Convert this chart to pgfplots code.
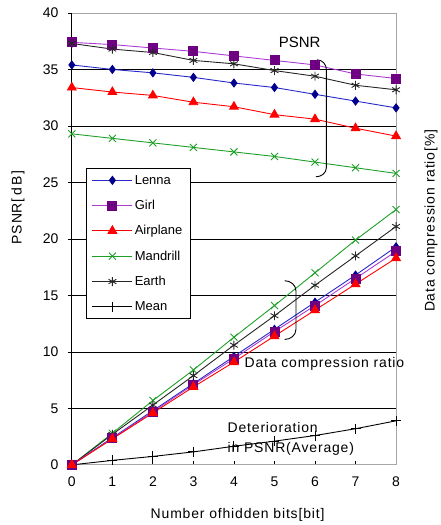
\documentclass[border=0pt]{standalone}
\usepackage{fontspec}
\setmainfont{Liberation Sans}
\newfontfamily\spaced[LetterSpace=6]{Liberation Sans}
\usepackage{pgfplots}
\usepackage{pgfplotstable}
\pgfplotsset{compat=1.18}

\definecolor{lenna}{RGB}{0,0,140}
\definecolor{lennaline}{RGB}{40,40,200}
\definecolor{girl}{RGB}{110,0,130}
\definecolor{girlline}{RGB}{170,60,210}
\definecolor{airplane}{RGB}{255,0,0}
\definecolor{mandrill}{RGB}{30,160,40}

% PSNR [dB]
\pgfplotstableread{
x Lenna Girl Airplane Mandrill Earth
0 35.4 37.4 33.4 29.3 37.3
1 35.0 37.2 33.0 28.9 36.8
2 34.7 36.9 32.7 28.5 36.5
3 34.3 36.6 32.1 28.1 35.8
4 33.8 36.2 31.7 27.7 35.5
5 33.4 35.8 31.0 27.3 34.9
6 32.8 35.4 30.6 26.8 34.4
7 32.2 34.6 29.8 26.3 33.6
8 31.6 34.2 29.1 25.8 33.2
}\psnr

% data compression ratio [%]
\pgfplotstableread{
x Lenna Girl Airplane Mandrill Earth
0 0    0    0    0    0
1 2.4  2.35 2.3  2.8  2.7
2 4.8  4.7  4.6  5.7  5.3
3 7.2  7.1  6.9  8.4  7.9
4 9.6  9.4  9.1  11.3 10.6
5 12.0 11.8 11.4 14.1 13.2
6 14.4 14.1 13.7 17.0 15.9
7 16.8 16.5 16.0 19.9 18.5
8 19.3 18.9 18.3 22.6 21.1
}\ratio

% deterioration in PSNR, average
\pgfplotstableread{
x Mean
0 0
1 0.4
2 0.75
3 1.15
4 1.65
5 2.1
6 2.6
7 3.2
8 3.9
}\mean

\begin{document}
\begin{tikzpicture}
\begin{axis}[
  scale only axis, width=325pt, height=453pt,
  xmin=0, xmax=8, ymin=0, ymax=40,
  xtick={0,...,8}, ytick={0,5,...,40},
  tickpos=left, xtick align=inside, ytick align=outside,
  major tick length=4pt,
  tick style={black, line width=0.8pt},
  ymajorgrids, major grid style={black, line width=0.8pt},
  axis line style={gray!70, line width=0.8pt},
  ticklabel style={font=\fontsize{14}{16}\selectfont},
  /pgf/number format/assume math mode=true,
  xticklabel style={yshift=-8pt},
  yticklabel style={xshift=-6pt},
  clip=false,
  every axis plot/.append style={line width=0.9pt},
  legend style={at={(axis cs:0.34,26.3)}, anchor=north west, draw=black,
    fill=white, line width=0.8pt, font=\fontsize{13}{15}\selectfont,
    row sep=10.5pt, inner ysep=5pt, inner xsep=6pt},
  legend cell align=left,
  legend image code/.code={
    \draw[mark repeat=2, mark phase=2] plot coordinates {(0pt,0pt) (20pt,0pt) (40pt,0pt)};},
]
\draw[black, line width=1pt] (rel axis cs:0,0) -- (rel axis cs:0,1);

\addplot[color=lennaline, mark=diamond*, mark size=4pt, mark options={fill=lenna, draw=lenna}] table[y=Lenna] {\psnr};
\addplot[color=girlline, mark=square*, mark size=4.5pt, mark options={fill=girl, draw=girl}] table[y=Girl] {\psnr};
\addplot[color=airplane, mark=triangle*, mark size=5pt, mark options={fill=airplane}] table[y=Airplane] {\psnr};
\addplot[color=mandrill, mark=x, mark size=5pt] table[y=Mandrill] {\psnr};
\addplot[color=black!85, mark=asterisk, mark size=4.5pt] table[y=Earth] {\psnr};
\addplot[color=black, mark=+, mark size=5pt] table[y=Mean] {\mean};
\legend{Lenna, Girl, Airplane, Mandrill, Earth, Mean}

\addplot[color=mandrill, mark=x, mark size=5pt, forget plot] table[y=Mandrill] {\ratio};
\addplot[color=black!85, mark=asterisk, mark size=4.5pt, forget plot] table[y=Earth] {\ratio};
\addplot[color=lennaline, mark=diamond*, mark size=4pt, mark options={fill=lenna, draw=lenna}, forget plot] table[y=Lenna] {\ratio};
\addplot[color=girlline, mark=square*, mark size=4.5pt, mark options={fill=girl, draw=girl}, forget plot] table[y=Girl] {\ratio};
\addplot[color=airplane, mark=triangle*, mark size=5pt, mark options={fill=airplane}, forget plot] table[y=Airplane] {\ratio};

% braces and notes
\draw[line width=0.9pt] (axis cs:6.05,35.85) to[out=0,in=90] (axis cs:6.28,35.0)
  -- (axis cs:6.28,26.3) to[out=-90,in=0] (axis cs:6.02,25.5);
\draw[line width=0.9pt] (axis cs:5.25,16.3) to[out=0,in=90] (axis cs:5.53,15.4)
  -- (axis cs:5.53,12.0) to[out=-90,in=0] (axis cs:5.25,11.1);
\node[font=\fontsize{15}{17}\selectfont] at (axis cs:5.62,37.4) {PSNR};
\node[anchor=west, font=\spaced\fontsize{14}{16}\selectfont, inner sep=0pt] at (axis cs:4.26,8.9) {Data compression ratio};
\node[anchor=west, font=\spaced\fontsize{14}{16}\selectfont, inner sep=0pt] at (axis cs:3.84,3.35) {Deterioration};
\node[anchor=west, font=\spaced\fontsize{14}{16}\selectfont, inner sep=0pt] at (axis cs:3.84,1.4) {in PSNR(Average)};

% axis titles
\node[rotate=90, font=\spaced\fontsize{14}{16}\selectfont] at (axis cs:-1.33,22.8) {PSNR[\,d\,B\,]};
\node[rotate=90, font=\spaced\fontsize{14}{16}\selectfont] at (axis cs:8.86,21.6) {Data compression ratio[\%]};
\node[font=\spaced\fontsize{14}{16}\selectfont] at (axis cs:4.09,-4.45) {Number ofhidden bits[bit]};
\end{axis}
\path (current axis.south west) ++(-72pt,-59pt) rectangle ([xshift=42pt,yshift=13pt]current axis.north east);
\end{tikzpicture}
\end{document}
